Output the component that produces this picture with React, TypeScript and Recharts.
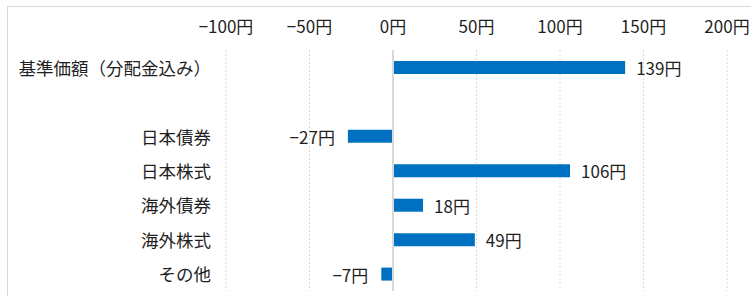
import { Bar, BarChart, CartesianGrid, LabelList, ReferenceLine, XAxis, YAxis } from "recharts";

const categories = ["基準価額（分配金込み）", "", "日本債券", "日本株式", "海外債券", "海外株式", "その他"];
const values: (number | null)[] = [139, null, -27, 106, 18, 49, -7];
const ticks = [-100, -50, 0, 50, 100, 150, 200];

const BLUE = "#0070C0";
const GRID = "#d9d9d9";
const TEXT = "#1f1f1f";
const FONT = "'Noto Sans CJK JP', 'Noto Sans', sans-serif";

const yen = (v: number) => `${v < 0 ? "−" : ""}${Math.abs(v)}円`;

const data = categories.map((name, i) => ({ name, value: values[i] }));

function TopTick({ x, payload }: any) {
  return (
    <text x={x} y={18} textAnchor="middle" dominantBaseline="central" fill={TEXT} fontSize={17} fontFamily={FONT}>
      {yen(payload.value)}
    </text>
  );
}

function CatTick({ x, y, payload }: any) {
  return (
    <text x={x} y={y} textAnchor="end" dominantBaseline="central" fill={TEXT} fontSize={17.5} fontFamily={FONT}>
      {payload.value}
    </text>
  );
}

function ValueLabel({ x, y, width, height, value }: any) {
  if (value == null) return null;
  const neg = value < 0;
  // bar end is x+width for positives; for negatives width is negative
  const end = x + width;
  return (
    <text
      x={neg ? end - 13 : end + 11}
      y={y + height / 2}
      textAnchor={neg ? "end" : "start"}
      dominantBaseline="central"
      fill={TEXT}
      fontSize={17}
      fontFamily={FONT}
    >
      {yen(value)}
    </text>
  );
}

export default function App() {
  return (
    <div
      style={{
        position: "absolute",
        left: 7,
        top: 6,
        width: 744,
        height: 290,
        borderTop: `1px solid ${GRID}`,
        borderLeft: `1px solid ${GRID}`,
        background: "#fff",
        overflow: "hidden",
      }}
    >
      <BarChart
        layout="vertical"
        width={743}
        height={289}
        data={data}
        margin={{ top: 0, right: 24, bottom: 5, left: 0 }}
        barCategoryGap={0}
      >
        <CartesianGrid horizontal={false} stroke={GRID} strokeDasharray="2 2" />
        <XAxis
          type="number"
          orientation="top"
          domain={[-100, 200]}
          ticks={ticks}
          axisLine={false}
          tickLine={false}
          height={43}
          tick={<TopTick />}
        />
        <YAxis
          type="category"
          dataKey="name"
          width={218}
          axisLine={false}
          tickLine={false}
          tickMargin={9}
          interval={0}
          tick={<CatTick />}
        />
        <ReferenceLine x={0} stroke={GRID} strokeWidth={2} />
        <Bar dataKey="value" fill={BLUE} barSize={13} isAnimationActive={false}>
          <LabelList dataKey="value" content={<ValueLabel />} />
        </Bar>
      </BarChart>
    </div>
  );
}
